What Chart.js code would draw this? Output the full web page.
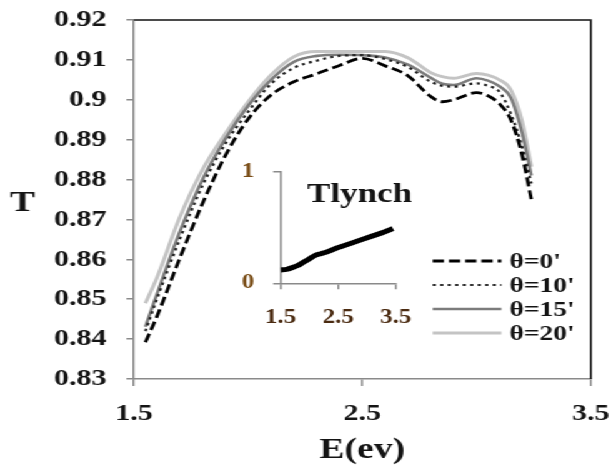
<!DOCTYPE html>
<html>
<head>
<meta charset="utf-8">
<script src="https://cdn.jsdelivr.net/npm/chart.js@4.4.0/dist/chart.umd.min.js"></script>
<style>
  html, body { margin: 0; padding: 0; background: #fff; overflow: hidden; }
  /* the figure is drawn narrow, then stretched sideways */
  #wrap { position: relative; width: 489px; height: 468px; transform: scaleX(1.2495); transform-origin: 0 0; }
  #main { position: absolute; left: 0; top: 0; }
  #inset { position: absolute; left: 170px; top: 150px; }
</style>
</head>
<body>
<div id="wrap">
  <canvas id="main" width="489" height="468"></canvas>
  <canvas id="inset" width="160" height="190"></canvas>
</div>
<script>
// Photon energy (eV)
const energy = [1.55, 1.6, 1.7, 1.8, 1.9, 2.0, 2.1, 2.2, 2.3, 2.4, 2.5, 2.6, 2.7, 2.8, 2.85, 2.9, 3.0, 3.05, 3.1, 3.15, 3.2, 3.24];

// Transmittance for each incidence angle
const theta0  = [0.8392, 0.8456, 0.8602, 0.8740, 0.8860, 0.8952, 0.9012, 0.9045, 0.9065, 0.9086, 0.9104, 0.9085, 0.9060, 0.9008, 0.8995, 0.9000, 0.9018, 0.9010, 0.8990, 0.8950, 0.8860, 0.8749];
const theta10 = [0.8420, 0.8500, 0.8650, 0.8785, 0.8890, 0.8970, 0.9040, 0.9080, 0.9098, 0.9110, 0.9112, 0.9102, 0.9082, 0.9045, 0.9035, 0.9033, 0.9041, 0.9035, 0.9020, 0.8965, 0.8880, 0.8790];
const theta15 = [0.8431, 0.8512, 0.8668, 0.8800, 0.8902, 0.8985, 0.9050, 0.9095, 0.9110, 0.9113, 0.9112, 0.9106, 0.9088, 0.9055, 0.9040, 0.9037, 0.9054, 0.9048, 0.9034, 0.9005, 0.8915, 0.8810];
const theta20 = [0.8490, 0.8553, 0.8705, 0.8825, 0.8915, 0.8995, 0.9062, 0.9108, 0.9121, 0.9121, 0.9121, 0.9121, 0.9105, 0.9068, 0.9058, 0.9054, 0.9066, 0.9062, 0.9050, 0.9025, 0.8945, 0.8832];
const seriesNames = ["θ=0'", "θ=10'", "θ=15'", "θ=20'"];

// Lynch transmittance (inset)
const lynchE = [1.5, 1.6, 1.7, 1.8, 1.9, 2.0, 2.1, 2.2, 2.3, 2.5, 2.7, 2.9, 3.1, 3.3, 3.45];
const lynchT = [0.12, 0.125, 0.14, 0.16, 0.19, 0.22, 0.25, 0.265, 0.28, 0.32, 0.355, 0.39, 0.425, 0.46, 0.49];

// Tick values
const eTicks = [1.5, 2.5, 3.5];
const tTicks = [0.83, 0.84, 0.85, 0.86, 0.87, 0.88, 0.89, 0.90, 0.91, 0.92];
const insetYTicks = [0, 1];

const serif = "'Liberation Serif', 'Times New Roman', serif";
const axisGray = '#8a8a8a';
const ink = '#141414';

function points(xs, ys) {
  return xs.map((x, i) => ({ x: x, y: ys[i] }));
}

// keep edge tick labels from shrinking the plot area
function noEdgePadding(s) {
  s.paddingLeft = 0;
  s.paddingRight = 0;
  s.paddingTop = 0;
  s.paddingBottom = 0;
}

// frame, upright "T" and the legend
const mainDecor = {
  id: 'mainDecor',
  afterDraw(chart) {
    const ctx = chart.ctx;
    const a = chart.chartArea;
    ctx.save();
    ctx.strokeStyle = '#111';
    ctx.lineWidth = 1.6;
    ctx.beginPath();
    ctx.moveTo(a.left, a.top);
    ctx.lineTo(a.right, a.top);
    ctx.lineTo(a.right, a.bottom);
    ctx.stroke();

    ctx.fillStyle = ink;
    ctx.font = 'bold 30px ' + serif;
    ctx.textAlign = 'center';
    ctx.textBaseline = 'middle';
    ctx.fillText('T', 18, (a.top + a.bottom) / 2 + 4);

    // legend
    const lx = a.right - 126.5;
    const tx = a.right - 65;
    const y0 = 261;
    ctx.font = 'bold 22px ' + serif;
    ctx.textAlign = 'left';
    chart.data.datasets.forEach((ds, i) => {
      const y = y0 + i * 24;
      ctx.save();
      ctx.strokeStyle = ds.borderColor;
      ctx.lineWidth = ds.borderWidth;
      ctx.setLineDash(ds.borderDash || []);
      ctx.beginPath();
      ctx.moveTo(lx, y);
      ctx.lineTo(lx + 55, y);
      ctx.stroke();
      ctx.restore();
      ctx.fillText(ds.label, tx, y + 1);
    });
    ctx.restore();
  }
};

const mainChart = new Chart(document.getElementById('main'), {
  type: 'line',
  data: {
    datasets: [
      { label: seriesNames[0], data: points(energy, theta0), borderColor: '#000', borderWidth: 2.8, borderDash: [9, 4] },
      { label: seriesNames[1], data: points(energy, theta10), borderColor: '#222', borderWidth: 2.2, borderDash: [2.5, 3.5] },
      { label: seriesNames[2], data: points(energy, theta15), borderColor: '#7c7c7c', borderWidth: 2.6 },
      { label: seriesNames[3], data: points(energy, theta20), borderColor: '#c4c4c4', borderWidth: 3 }
    ]
  },
  options: {
    responsive: false,
    animation: false,
    events: [],
    elements: { point: { radius: 0 }, line: { cubicInterpolationMode: 'monotone', fill: false } },
    layout: { padding: { top: 20, right: 16.2, left: 0, bottom: 0 } },
    plugins: { legend: { display: false }, tooltip: { enabled: false } },
    scales: {
      x: {
        type: 'linear', min: 1.5, max: 3.5,
        afterBuildTicks: s => { s.ticks = eTicks.map(v => ({ value: v })); },
        afterFit: s => { s.height = 89; noEdgePadding(s); },
        grid: { drawOnChartArea: false, tickLength: 7, color: axisGray, lineWidth: 1.5 },
        border: { color: axisGray, width: 1.5 },
        ticks: { autoSkip: false, maxRotation: 0, padding: 13, color: ink,
                 font: { family: serif, size: 24, weight: 'bold' },
                 callback: v => v.toFixed(1) },
        title: { display: true, text: 'E(ev)', color: ink, padding: 0,
                 font: { family: serif, size: 30, weight: 'bold' } }
      },
      y: {
        min: 0.83, max: 0.92,
        afterBuildTicks: s => { s.ticks = tTicks.map(v => ({ value: v })); },
        afterFit: s => { s.width = 107.2; noEdgePadding(s); },
        grid: { drawOnChartArea: false, tickLength: 6, color: axisGray, lineWidth: 1.5 },
        border: { color: axisGray, width: 1.5 },
        ticks: { autoSkip: false, padding: 16, color: ink,
                 font: { family: serif, size: 24, weight: 'bold' },
                 callback: v => String(+v.toFixed(2)) }
      }
    }
  },
  plugins: [mainDecor]
});

// "Tlynch" caption inside the inset
const insetCaption = {
  id: 'insetCaption',
  afterDraw(chart) {
    const ctx = chart.ctx;
    const x = chart.scales.x.getPixelForValue(2.87);
    const y = chart.scales.y.getPixelForValue(0.79);
    ctx.save();
    ctx.fillStyle = ink;
    ctx.font = 'bold 28px ' + serif;
    ctx.textAlign = 'center';
    ctx.textBaseline = 'middle';
    ctx.fillText('Tlynch', x, y);
    ctx.restore();
  }
};

const insetChart = new Chart(document.getElementById('inset'), {
  type: 'line',
  data: {
    datasets: [
      { label: 'Tlynch', data: points(lynchE, lynchT), borderColor: '#000', borderWidth: 5 }
    ]
  },
  options: {
    responsive: false,
    animation: false,
    events: [],
    elements: { point: { radius: 0 }, line: { cubicInterpolationMode: 'monotone', fill: false } },
    layout: { padding: { top: 21.7, right: 13.2, left: 0, bottom: 0 } },
    plugins: { legend: { display: false }, tooltip: { enabled: false } },
    scales: {
      x: {
        type: 'linear', min: 1.5, max: 3.5,
        afterBuildTicks: s => { s.ticks = eTicks.map(v => ({ value: v })); },
        afterFit: s => { s.height = 56.7; noEdgePadding(s); },
        grid: { drawOnChartArea: false, tickLength: 6, color: axisGray, lineWidth: 1.5 },
        border: { color: axisGray, width: 1.5 },
        ticks: { autoSkip: false, maxRotation: 0, padding: 17, color: '#4a2a10',
                 font: { family: serif, size: 20, weight: 'bold' },
                 callback: v => v.toFixed(1) }
      },
      y: {
        min: 0, max: 1,
        afterBuildTicks: s => { s.ticks = insetYTicks.map(v => ({ value: v })); },
        afterFit: s => { s.width = 54.6; noEdgePadding(s); },
        grid: { drawOnChartArea: false, tickLength: 6, color: axisGray, lineWidth: 1.5 },
        border: { color: axisGray, width: 1.5 },
        ticks: { autoSkip: false, padding: 15, color: '#7a4e18',
                 font: { family: serif, size: 20, weight: 'bold' } }
      }
    }
  },
  plugins: [insetCaption]
});
</script>
</body>
</html>
